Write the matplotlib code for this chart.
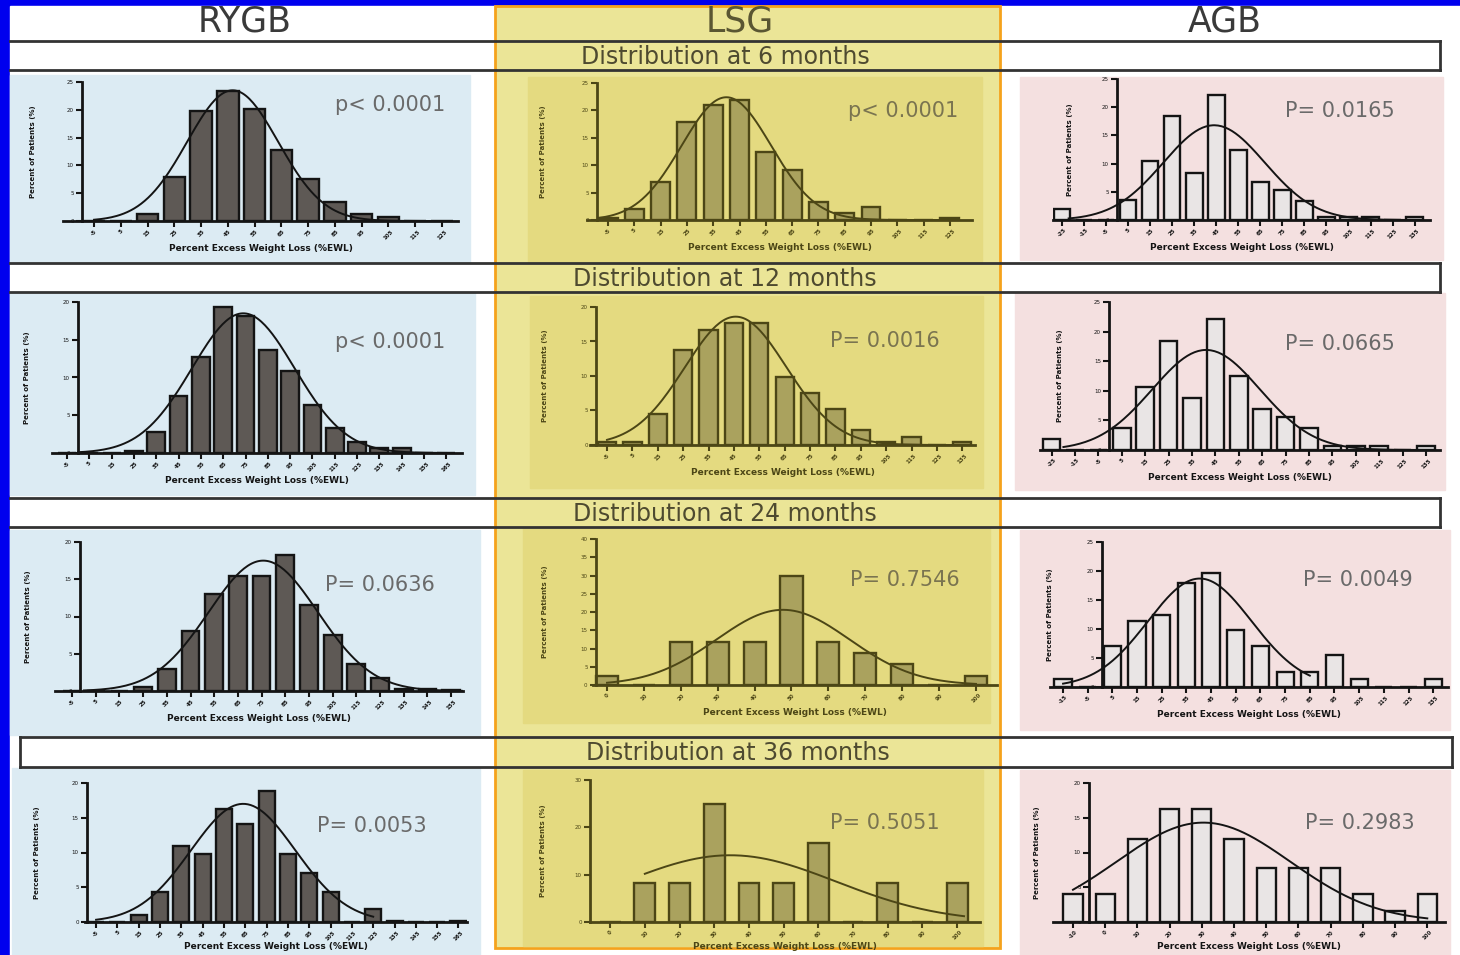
import numpy as np
import matplotlib.pyplot as plt
from matplotlib.patches import Rectangle

W, H = 1460, 955

# ---- percent of patients per %EWL bin ----
rygb_6 = [0, 0, 1.3, 7.9, 19.7, 23.4, 20.2, 12.7, 7.5, 3.4, 1.3, 0.8, 0, 0]
lsg_6 = [0.4, 2.0, 7.0, 17.8, 21.0, 21.9, 12.4, 9.1, 3.3, 1.2, 2.3, 0, 0, 0.3]
agb_6 = [1.9, 0, 0, 3.5, 10.5, 18.4, 8.3, 22.2, 12.4, 6.8, 5.4, 3.4, 0.6, 0.6, 0.6, 0, 0.6]

rygb_12 = [0, 0, 0, 0.2, 2.8, 7.5, 12.7, 19.3, 18.1, 13.6, 10.9, 6.3, 3.3, 1.5, 0.6, 0.6, 0, 0]
lsg_12 = [0.5, 0.5, 4.5, 13.7, 16.6, 17.7, 17.7, 9.8, 7.5, 5.2, 2.2, 0.5, 1.2, 0, 0.5]
agb_12 = [1.8, 0, 0, 3.8, 10.7, 18.4, 8.7, 22.2, 12.5, 6.9, 5.6, 3.8, 0.7, 0.7, 0.7, 0, 0.7]

rygb_24 = [0, 0, 0, 0.5, 2.9, 8.1, 13.0, 15.5, 15.5, 18.3, 11.5, 7.5, 3.6, 1.7, 0.3, 0.3, 0.1]
lsg_24 = [2.5, 0, 11.9, 11.9, 11.9, 29.9, 11.9, 8.7, 5.7, 0, 2.5]
agb_24 = [1.4, 0, 7.0, 11.4, 12.5, 17.9, 19.7, 9.8, 7.0, 2.6, 2.6, 5.5, 1.4, 0, 0, 1.4]

rygb_36 = [0, 0, 1.0, 4.3, 11.0, 9.8, 16.3, 14.1, 18.9, 9.8, 7.0, 4.3, 0, 1.9, 0.1, 0, 0, 0.2]
lsg_36 = [0, 8.33, 8.33, 25.0, 8.33, 8.33, 16.67, 0, 8.33, 0, 8.33]
agb_36 = [4.1, 4.1, 12.0, 16.2, 16.2, 12.0, 7.8, 7.8, 7.8, 4.1, 1.6, 4.1]

# bin labels (%EWL) for the x axes
rygb_6_bins = [str(v) for v in range(-5, 135, 10)]
lsg_6_bins = [str(v) for v in range(-5, 135, 10)]
agb_6_bins = [str(v) for v in range(-25, 145, 10)]
rygb_12_bins = [str(v) for v in range(-5, 175, 10)]
lsg_12_bins = [str(v) for v in range(-5, 145, 10)]
agb_12_bins = [str(v) for v in range(-25, 145, 10)]
rygb_24_bins = [str(v) for v in range(-5, 165, 10)]
lsg_24_bins = [str(v) for v in range(0, 110, 10)]
agb_24_bins = [str(v) for v in range(-15, 145, 10)]
rygb_36_bins = [str(v) for v in range(-5, 175, 10)]
lsg_36_bins = [str(v) for v in range(0, 110, 10)]
agb_36_bins = [str(v) for v in range(-10, 110, 10)]

# gaussian fits as drawn: (peak, centre in bins, sd in bins)
rygb_6_fit, lsg_6_fit, agb_6_fit = (23.5, 5.18, 1.7), (22.4, 4.5, 1.7), (16.8, 6.9, 2.3)
rygb_12_fit, lsg_12_fit, agb_12_fit = (18.5, 7.9, 2.3), (18.6, 5.07, 2.0), (16.9, 6.6, 2.3)
rygb_24_fit, lsg_24_fit, agb_24_fit = (17.5, 8.07, 2.3), (20.6, 4.77, 1.8), (18.7, 5.54, 2.1)
rygb_36_fit, lsg_36_fit, agb_36_fit = (17.0, 6.9, 2.45), (14.1, 3.46, 3.05), (14.3, 4.05, 2.7)

p_6 = ['p< 0.0001', 'p< 0.0001', 'P= 0.0165']
p_12 = ['p< 0.0001', 'P= 0.0016', 'P= 0.0665']
p_24 = ['P= 0.0636', 'P= 0.7546', 'P= 0.0049']
p_36 = ['P= 0.0053', 'P= 0.5051', 'P= 0.2983']

groups = ['RYGB', 'LSG', 'AGB']
months = [6, 12, 24, 36]

# colours per column: bar face, bar edge / axis, panel background
styles = {'RYGB': ('#5e5955', '#141414', '#dcebf3'),
          'LSG': ('#aaa25e', '#4c4616', '#e4da80'),
          'AGB': ('#e9e5e5', '#141414', '#f4e0e0')}


def px_axes(fig, x0, x1, ytop, ybot):
    """axes placed in pixel coordinates (origin top left)"""
    return fig.add_axes([x0 / W, 1 - ybot / H, (x1 - x0) / W, (ybot - ytop) / H])


def draw_panel(ax, values, bins, fit, span, ymax, ystep, yaxis_at, xlim, width, group,
               xpad=3):
    face, edge, _ = styles[group]
    x = np.arange(len(values))
    ax.bar(x, values, width=width, color=face, edgecolor=edge, linewidth=1.7, zorder=2)
    peak, mu, sd = fit
    xs = np.linspace(span[0], span[1], 200)
    ax.plot(xs, peak * np.exp(-0.5 * ((xs - mu) / sd) ** 2), color=edge, lw=1.4, zorder=3)

    ax.set_facecolor('none')
    ax.set_xlim(*xlim)
    ax.set_ylim(0, ymax)
    for s in ['top', 'right']:
        ax.spines[s].set_visible(False)
    ax.spines['left'].set_position(('data', yaxis_at))
    for s in ['left', 'bottom']:
        ax.spines[s].set_linewidth(2)
        ax.spines[s].set_color(edge)
    ax.set_yticks(np.arange(0, ymax + 0.1, ystep))
    ax.set_xticks(x)
    ax.set_xticklabels(bins, rotation=45, fontsize=4, fontweight='bold', color=edge)
    ax.tick_params(axis='y', labelsize=4, colors=edge, length=4, width=1.5, pad=2)
    ax.tick_params(axis='x', colors=edge, length=4, width=1.5, pad=1.5)
    ax.set_ylabel('Percent of Patients (%)', fontsize=5, fontweight='bold', color=edge)
    ax.set_xlabel('Percent Excess Weight Loss (%EWL)', fontsize=6.5, fontweight='bold',
                  color=edge, labelpad=xpad)


fig = plt.figure(figsize=(W / 100, H / 100), dpi=100)
fig.patch.set_facecolor('#0000ee')

bg = fig.add_axes([0, 0, 1, 1])
bg.set_xlim(0, W)
bg.set_ylim(H, 0)
bg.axis('off')
bg.add_patch(Rectangle((10, 6), W - 10, H - 6, color='white', zorder=0))

# panel backgrounds (pixels: x0, x1, ytop, ybot)
panel_bg = {
    ('RYGB', 6): (10, 470, 75, 262), ('RYGB', 12): (10, 475, 293, 495),
    ('RYGB', 24): (10, 480, 530, 735), ('RYGB', 36): (12, 480, 768, 955),
    ('LSG', 6): (528, 982, 77, 262), ('LSG', 12): (530, 983, 296, 488),
    ('LSG', 24): (523, 990, 528, 723), ('LSG', 36): (523, 983, 770, 946),
    ('AGB', 6): (1020, 1443, 77, 260), ('AGB', 12): (1015, 1445, 293, 490),
    ('AGB', 24): (1020, 1450, 530, 730), ('AGB', 36): (1020, 1450, 770, 955),
}
for (g, m), (x0, x1, y0, y1) in panel_bg.items():
    if g != 'LSG':
        bg.add_patch(Rectangle((x0, y0), x1 - x0, y1 - y0, color=styles[g][2], zorder=1))

# LSG column highlight
bg.add_patch(Rectangle((495, 6), 505, 942, facecolor='#ebe597', edgecolor='#f5a21c',
                       lw=2, zorder=2))
for (g, m), (x0, x1, y0, y1) in panel_bg.items():
    if g == 'LSG':
        bg.add_patch(Rectangle((x0, y0), x1 - x0, y1 - y0, color=styles[g][2], zorder=2.5))

# header rows
header_rows = [(41, 70, 10, 1440), (263, 292, 10, 1440), (498, 527, 10, 1440), (737, 767, 20, 1452)]
for (y0, y1, x0, x1), m in zip(header_rows, months):
    bg.plot([x0, x1], [y0, y0], color='#333333', lw=2, zorder=3)
    bg.plot([x0, x1], [y1, y1], color='#333333', lw=2, zorder=3)
    bg.plot([x1, x1], [y0, y1], color='#333333', lw=2, zorder=3)
    if x0 > 10:
        bg.plot([x0, x0], [y0, y1], color='#333333', lw=2, zorder=3)
    xc = 738 if m == 36 else 725
    bg.text(xc, (y0 + y1) / 2 + 1, 'Distribution at {} months'.format(m), ha='center',
            va='center', fontsize=17, color='#4e4a30', zorder=4)

for name, xc in zip(groups, [245, 740, 1225]):
    bg.text(xc, 21, name, ha='center', va='center', fontsize=25,
            color='#5a5632' if name == 'LSG' else '#3a3a3a', zorder=4)

# chart panels
values = [[rygb_6, lsg_6, agb_6], [rygb_12, lsg_12, agb_12],
          [rygb_24, lsg_24, agb_24], [rygb_36, lsg_36, agb_36]]
bins = [[rygb_6_bins, lsg_6_bins, agb_6_bins], [rygb_12_bins, lsg_12_bins, agb_12_bins],
        [rygb_24_bins, lsg_24_bins, agb_24_bins], [rygb_36_bins, lsg_36_bins, agb_36_bins]]
fits = [[rygb_6_fit, lsg_6_fit, agb_6_fit], [rygb_12_fit, lsg_12_fit, agb_12_fit],
        [rygb_24_fit, lsg_24_fit, agb_24_fit], [rygb_36_fit, lsg_36_fit, agb_36_fit]]
pvals = [p_6, p_12, p_24, p_36]

# layout: axes pixels, xlim, y-axis position, ymax, ystep, bar width, fit span,
# p text xy, y label x (pixels)
layout = [
    [((63, 458, 82, 221), (-1.16, 13.6), -0.45, 25, 5, 0.8, (0, 13), (390, 105), 33),
     ((587, 972, 83, 220), (-0.8, 13.84), -0.42, 25, 5, 0.72, (-0.3, 13), (903, 111), 543),
     ((1053, 1430, 79, 220), (-0.41, 16.7), 2.5, 25, 5, 0.75, (0.3, 16), (1340, 111), 1070)],
    [((52, 462, 302, 453), (-0.67, 17.7), 0.5, 20, 5, 0.8, (0.5, 17), (390, 342), 27),
     ((590, 975, 307, 445), (-0.67, 14.5), -0.43, 20, 5, 0.72, (0, 14), (885, 341), 545),
     ((1040, 1440, 302, 450), (-0.5, 16.6), 2.47, 25, 5, 0.75, (0.5, 16), (1340, 344), 1060)],
    [((55, 463, 542, 691), (-0.72, 16.5), 0.34, 20, 5, 0.75, (0.5, 16.5), (380, 585), 28),
     ((593, 997, 539, 685), (-0.38, 10.57), -0.3, 40, 5, 0.6, (0, 10), (905, 580), 545),
     ((1050, 1448, 542, 687), (-0.53, 15.6), 1.58, 25, 5, 0.7, (0, 10), (1358, 580), 1050)],
    [((85, 467, 783, 922), (-0.52, 17.4), -0.42, 20, 5, 0.75, (0, 13), (372, 826), 37),
     ((590, 980, 780, 922), (-0.58, 10.66), -0.58, 30, 10, 0.6, (1.0, 10.2), (885, 823), 543),
     ((1053, 1445, 783, 922), (-0.62, 11.55), 0.5, 20, 5, 0.6, (0, 11), (1360, 823), 1037)],
]

for r in range(4):
    for c, g in enumerate(groups):
        box, xlim, yat, ymax, ystep, width, span, pxy, ylab_x = layout[r][c]
        ax = px_axes(fig, *box)
        ax.set_zorder(5)
        draw_panel(ax, values[r][c], bins[r][c], fits[r][c], span, ymax, ystep, yat,
                   xlim, width, g, xpad=0.5 if r == 3 else 3)
        ax.yaxis.set_label_coords((ylab_x + 3 - box[0]) / (box[1] - box[0]), 0.5)
        bg.text(pxy[0], pxy[1], pvals[r][c], ha='center', va='center', fontsize=15,
                color='#7a7450' if g == 'LSG' else '#6a6a6a', zorder=4)

fig.savefig('out.png', dpi=100, facecolor=fig.get_facecolor())
